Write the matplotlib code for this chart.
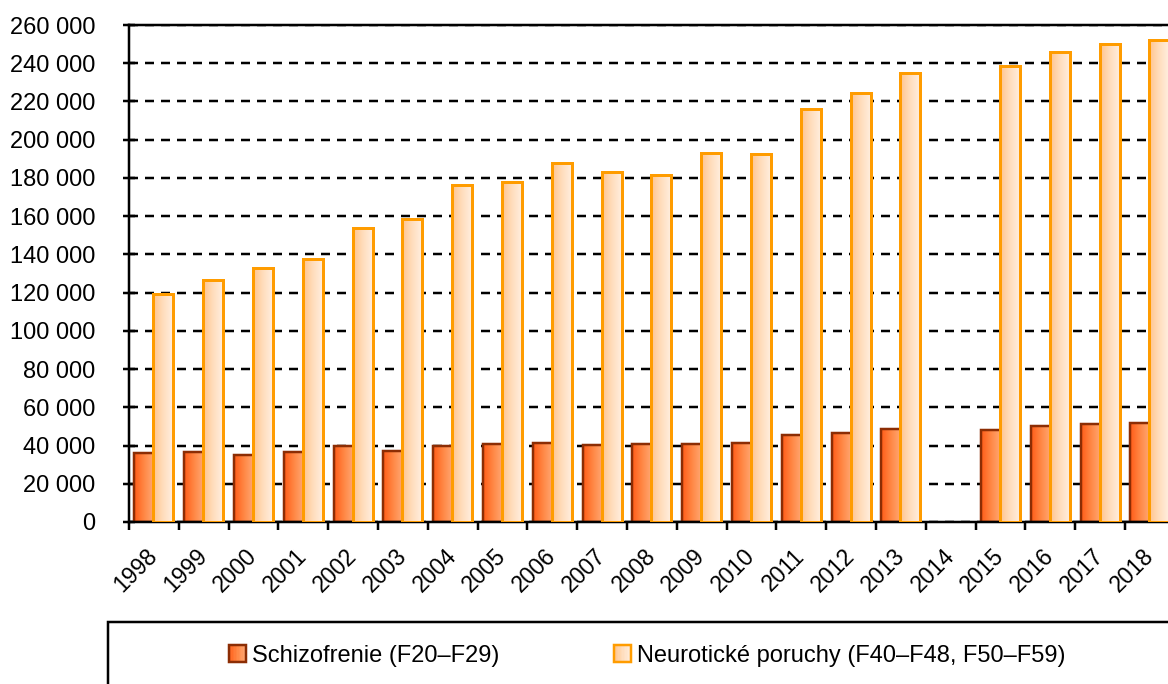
import numpy as np
import matplotlib.pyplot as plt
from matplotlib.colors import LinearSegmentedColormap
from matplotlib.patches import Rectangle
from matplotlib.legend_handler import HandlerBase
from matplotlib.ticker import FuncFormatter

plt.rcParams['font.family'] = ['Liberation Sans', 'DejaVu Sans']

# data
roky = ['1998', '1999', '2000', '2001', '2002', '2003', '2004', '2005', '2006', '2007', '2008',
        '2009', '2010', '2011', '2012', '2013', '2014', '2015', '2016', '2017', '2018']
schizofrenie = [36000, 36500, 35300, 36400, 40000, 37400, 40000, 40700, 41200, 40300, 41000,
                40700, 41300, 45400, 46700, 48400, np.nan, 48200, 50100, 51400, 51700]
neuroticke = [119200, 126500, 132800, 137700, 153700, 158400, 176100, 178000, 187900, 183300, 181700,
              193000, 192500, 215800, 224500, 234800, np.nan, 238300, 245700, 250200, 252300]
popisky = ['Schizofrenie (F20–F29)', 'Neurotické poruchy (F40–F48, F50–F59)']

cm_schizo = LinearSegmentedColormap.from_list('schizo', ['#FF5C18', '#FF8744', '#FFA874'])
cm_neuro = LinearSegmentedColormap.from_list('neuro', ['#FFC48C', '#FFDDBC', '#FFEEDF'])
hrana_schizo = '#8C2D04'
hrana_neuro = '#FF9C00'
px = 72 / 100  # 1 px in points


def gradientni_sloupce(ax, xs, vals, width, cmap, edge, lw, z):
    bars = ax.bar(xs, vals, width, color='none', edgecolor=edge, linewidth=lw, zorder=z + 0.2)
    grad = np.linspace(0, 1, 64).reshape(1, -1)
    for b, v in zip(bars, vals):
        if np.isnan(v):
            continue
        x0, w, h = b.get_x(), b.get_width(), b.get_height()
        ax.imshow(grad, extent=[x0, x0 + w, 0, h], cmap=cmap, aspect='auto',
                  interpolation='bicubic', zorder=z)
    return bars


class GradHandler(HandlerBase):
    def __init__(self, cmap, edge):
        super().__init__()
        self.cmap = cmap
        self.edge = edge

    def create_artists(self, legend, orig_handle, xdescent, ydescent, width, height, fontsize, trans):
        arts = []
        n = 12
        for i in range(n):
            arts.append(Rectangle((-xdescent + width * i / n, -ydescent), width / n, height,
                                  facecolor=self.cmap((i + 0.5) / n), edgecolor='none', transform=trans))
        arts.append(Rectangle((-xdescent, -ydescent), width, height, facecolor='none',
                              edgecolor=self.edge, linewidth=2.5 * px, transform=trans))
        return arts


fig = plt.figure(figsize=(11.68, 6.84), dpi=100)
ax = fig.add_axes([129 / 1168, 162 / 684, 21 * 49.8 / 1168, 497 / 684])

x = np.arange(len(roky))
gradientni_sloupce(ax, x - 0.19, schizofrenie, 0.4, cm_schizo, hrana_schizo, 2.5 * px, 2.0)
gradientni_sloupce(ax, x + 0.19, neuroticke, 0.4, cm_neuro, hrana_neuro, 3 * px, 3.0)

ax.set_xlim(-0.5, len(roky) - 0.5)
ax.set_ylim(0, 260000)
ax.set_yticks(np.arange(0, 260001, 20000))
ax.yaxis.set_major_formatter(FuncFormatter(lambda v, p: f'{v:,.0f}'.replace(',', ' ')))
ax.set_axisbelow(True)
ax.yaxis.grid(True, color='black', linewidth=2.5 * px, linestyle=(0, (3.6, 2.8)))

ax.set_xticks(x)
ax.set_xticklabels(roky, rotation=45, ha='right', va='center', rotation_mode='anchor')
ax.set_xticks(np.arange(-0.5, len(roky), 1), minor=True)
ax.tick_params(axis='x', which='major', length=0, pad=22, labelsize=16.5)
ax.tick_params(axis='x', which='minor', length=8 * px, width=2.5 * px, direction='out', color='black')
ax.tick_params(axis='y', direction='inout', length=12 * px, width=2.5 * px, pad=20, labelsize=17)

for s in ax.spines.values():
    s.set_linewidth(2.5 * px)
    s.set_color('black')

# legenda
h1 = Rectangle((0, 0), 1, 1)
h2 = Rectangle((0, 0), 1, 1)
fig.legend([h1, h2], popisky, loc='center', bbox_to_anchor=(647 / 1168, 1 - 656 / 684),
           ncol=2, frameon=False, fontsize=17, handlelength=0.72, handleheight=0.72,
           handletextpad=0.25, columnspacing=4.87,
           handler_map={h1: GradHandler(cm_schizo, hrana_schizo), h2: GradHandler(cm_neuro, hrana_neuro)})
fig.add_artist(Rectangle((108 / 1168, -0.1), 1.0, 0.1 + 1 - 622 / 684, transform=fig.transFigure,
                         fill=False, edgecolor='black', linewidth=2.5 * px))

fig.savefig('out.png', dpi=100)
